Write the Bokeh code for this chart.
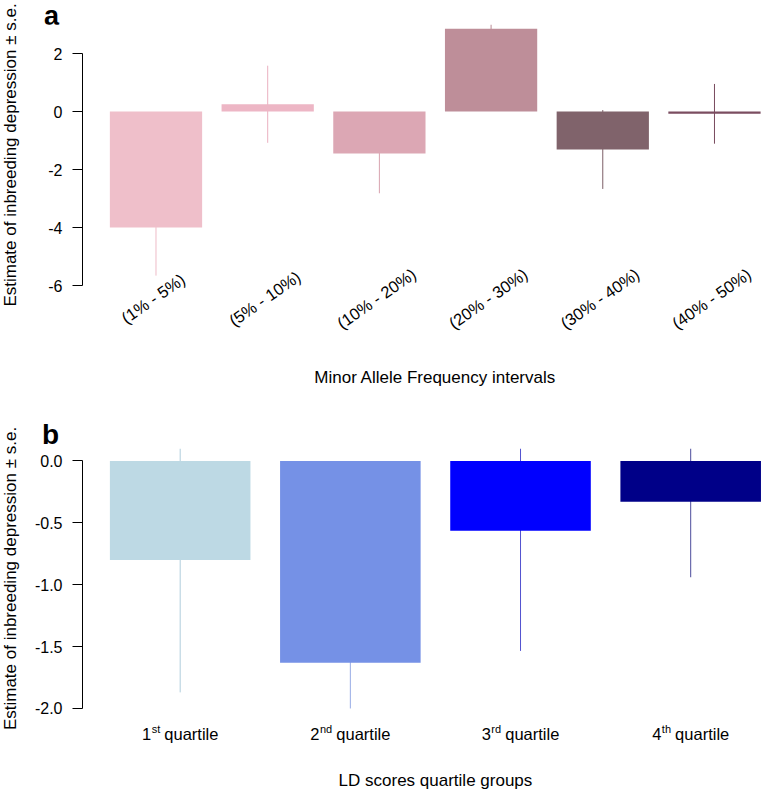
from bokeh.plotting import figure
from bokeh.models import (ColumnDataSource, FixedTicker, PrintfTickFormatter, Range1d)
from bokeh.core.properties import value
from bokeh.layouts import column, row
from bokeh.embed import file_html
from bokeh.resources import INLINE

# ---------------- data ----------------
maf_labels = ["(1% - 5%)", "(5% - 10%)", "(10% - 20%)",
              "(20% - 30%)", "(30% - 40%)", "(40% - 50%)"]
maf_est = [-4.00, 0.25, -1.45, 2.85, -1.31, -0.08]
maf_se = [1.66, 1.33, 1.37, 1.40, 1.36, 1.03]
maf_ticks = [-6, -4, -2, 0, 2]
maf_ylim = (-6.0, 3.0)

ld_num = ["1", "2", "3", "4"]
ld_sup = ["st", "nd", "rd", "th"]
ld_word = "quartile"
ld_est = [-0.80, -1.63, -0.565, -0.33]
ld_se = [1.07, 1.00, 0.97, 0.61]
ld_ticks = [-2.0, -1.5, -1.0, -0.5, 0.0]
ld_ylim = (-2.0, 0.1)

ylab = "Estimate of inbreeding depression \u00b1 s.e."
xlab_a = "Minor Allele Frequency intervals"
xlab_b = "LD scores quartile groups"

# ---------------- styles / layout ----------------
maf_colors = ["#EFBFCA", "#EDB6C5", "#DCA7B4", "#BE8E99", "#80636B", "#7B4D60"]
maf_err_colors = ["#EEBCC7", "#EBB1C0", "#D8A2AF", "#BB8A95", "#7C5F67", "#784A5D"]
ld_colors = ["#BDD9E4", "#7591E6", "#0000FF", "#000088"]
ld_err_colors = ["#B0CDDC", "#98ACE6", "#5252D0", "#4C4C9C"]
FONT = "Liberation Sans"
W = 762
LW = 24                 # strip holding the y-axis title
RW = W - LW             # plot column width
AXIS_W = 58             # y-axis panel inside the plot figure
MID = 0.35              # baseline -> text-box middle, in em

ADV = {"1": .556, "2": .556, "3": .556, "4": .556, "s": .5, "t": .278, "n": .556,
       "d": .556, "r": .333, "h": .556, " ": .278, "q": .556, "u": .556, "a": .556,
       "i": .222, "l": .222, "e": .556}


def tw(s, size):
    return sum(ADV.get(c, .556) for c in s) * size


def bare(fig):
    fig.grid.visible = False
    fig.outline_line_color = None
    fig.background_fill_color = "white"
    fig.border_fill_color = "white"
    return fig


def strip(width, height, **kw):
    return bare(figure(width=width, height=height, x_range=Range1d(0, width),
                       y_range=Range1d(0, height), output_backend="svg",
                       toolbar_location=None, x_axis_location=None,
                       y_axis_location=None, min_border=0, frame_align=False, **kw))


def style_axis(p, ticks, fmt):
    ax = p.yaxis[0]
    ax.ticker = FixedTicker(ticks=ticks)
    ax.bounds = (min(ticks), max(ticks))
    ax.formatter = PrintfTickFormatter(format=fmt)
    ax.axis_line_color = "black"
    ax.axis_line_width = 1
    ax.major_tick_line_color = "black"
    ax.major_tick_out = 10
    ax.major_tick_in = 0
    ax.minor_tick_line_color = None
    ax.major_label_standoff = 10
    ax.major_label_text_font = FONT
    ax.major_label_text_font_size = "16px"
    ax.major_label_text_color = "black"


def panel(est, se, colors, err_colors, ylim, ticks, fmt, x_range, ppu, below, height):
    ybottom = ylim[0] - below / ppu
    p = bare(figure(width=RW, height=height, x_range=Range1d(*x_range),
                    y_range=Range1d(ybottom, ylim[1]), output_backend="svg",
                    toolbar_location=None, x_axis_location=None,
                    min_border_left=AXIS_W, min_border_right=0,
                    min_border_top=0, min_border_bottom=0, frame_align=False))
    style_axis(p, ticks, fmt)
    xs = list(range(1, len(est) + 1))
    src = ColumnDataSource(dict(
        x=xs, est=est, color=colors, ecolor=err_colors,
        lo=[max(e - s, ylim[0]) for e, s in zip(est, se)],
        hi=[min(e + s, ylim[1]) for e, s in zip(est, se)]))
    p.segment(x0="x", y0="lo", x1="x", y1="hi", line_color="ecolor",
              line_width=1, source=src)
    p.vbar(x="x", top="est", bottom=0, width=0.826, fill_color="color",
           line_color=None, source=src)
    return p, xs


def txt(size, **kw):
    return dict(text_baseline="middle", text_font=value(FONT),
                text_font_size=value(f"{size}px"), text_color="black", **kw)


# ---------------- panel a ----------------
TOP_A, H_A, PPU_A = 24, 395, 29.0
FRAME_A = (maf_ylim[1] - maf_ylim[0]) * PPU_A
BELOW_A = H_A - TOP_A - FRAME_A
pa, xa = panel(maf_est, maf_se, maf_colors, maf_err_colors, maf_ylim, maf_ticks,
               "%d", (0.342, 6.43), PPU_A, BELOW_A, H_A - TOP_A)
lab_src = ColumnDataSource(dict(x=xa, y=[maf_ylim[0] - 13 / PPU_A] * len(xa),
                                text=maf_labels))
pa.text(x="x", y="y", text="text", source=lab_src, angle=35, angle_units="deg",
        x_offset=-3, **txt(16.5, text_align="center"))
pa.text(x=[(xa[0] + xa[-1]) / 2], y=[maf_ylim[0] - (98 - MID * 17) / PPU_A],
        text=[xlab_a], **txt(17, text_align="center"))

# header strip for the panel letter; it hangs 7px under the plot's top edge
HA_EXT = 7
ha = strip(RW, TOP_A + HA_EXT, margin=(0, 0, -HA_EXT, 0))
LET_A = 27
ha.text(x=[19.5], y=[TOP_A + HA_EXT - 24.5 + MID * LET_A], text=["a"],
        text_font_style="bold", **txt(LET_A, text_align="left"))

la = strip(LW, H_A)
la.text(x=[15.5 - MID * 17], y=[H_A - (TOP_A + FRAME_A / 2)], text=[ylab],
        angle=90, angle_units="deg", **txt(17, text_align="center"))

# ---------------- panel b ----------------
TOP_B, H_B, PPU_B = 53, 396, 123.8
FRAME_B = (ld_ylim[1] - ld_ylim[0]) * PPU_B
BELOW_B = H_B - TOP_B - FRAME_B
pb, xb = panel(ld_est, ld_se, ld_colors, ld_err_colors, ld_ylim, ld_ticks,
               "%.1f", (0.426, 4.422), PPU_B, BELOW_B, H_B - TOP_B)
NUM, SUP = 16.5, 11
n_off, s_off, w_off = [], [], []
for n, s in zip(ld_num, ld_sup):
    wn, ws = tw(n, NUM), tw(s, SUP)
    wsp, ww = tw(" ", NUM), tw(ld_word, NUM)
    x0 = -(wn + ws + wsp + ww) / 2
    n_off.append(x0)
    s_off.append(x0 + wn + 0.5)
    w_off.append(x0 + wn + ws + wsp)
base_y = ld_ylim[0] - (31 - MID * NUM) / PPU_B
sup_y = ld_ylim[0] - (24.5 - MID * SUP) / PPU_B
q_src = ColumnDataSource(dict(x=xb, num=ld_num, sup=ld_sup, word=[ld_word] * len(xb),
                              n_off=n_off, s_off=s_off, w_off=w_off,
                              by=[base_y] * len(xb), sy=[sup_y] * len(xb)))
pb.text(x="x", y="by", text="num", x_offset="n_off", source=q_src,
        **txt(NUM, text_align="left"))
pb.text(x="x", y="sy", text="sup", x_offset="s_off", source=q_src,
        **txt(SUP, text_align="left"))
pb.text(x="x", y="by", text="word", x_offset="w_off", source=q_src,
        **txt(NUM, text_align="left"))
pb.text(x=[(xb[0] + xb[-1]) / 2], y=[ld_ylim[0] - (78 - MID * 17) / PPU_B],
        text=[xlab_b], **txt(17, text_align="center"))

hb = strip(RW, TOP_B)
hb.text(x=[17.5], y=[4.7 + MID * 28], text=["b"], text_font_style="bold",
        **txt(28, text_align="left"))

lb = strip(LW, H_B)
lb.text(x=[15.5 - MID * 17], y=[H_B - (TOP_B + FRAME_B / 2)], text=[ylab],
        angle=90, angle_units="deg", **txt(17, text_align="center"))

layout = column(row(la, column(ha, pa, spacing=0), spacing=0),
                row(lb, column(hb, pb, spacing=0), spacing=0), spacing=0)
open("out.html", "w").write(file_html(layout, INLINE))
